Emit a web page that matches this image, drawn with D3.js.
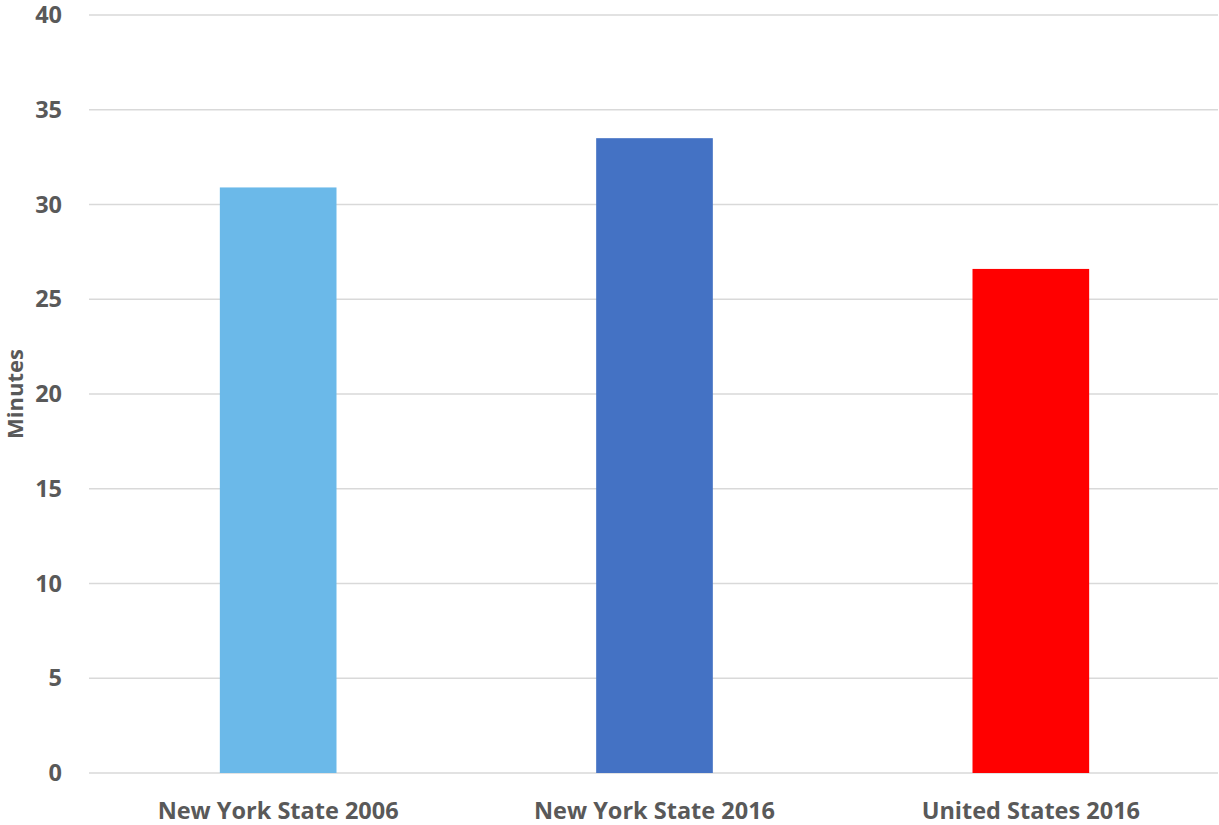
<!DOCTYPE html>
<html><head><meta charset="utf-8">
<script src="https://cdn.jsdelivr.net/npm/d3@7"></script>
<style>body{margin:0;background:#fff}</style>
</head><body><svg id="c" width="1219" height="825"></svg>
<script>
const categories = ["New York State 2006", "New York State 2016", "United States 2016"];
const values = [30.9, 33.5, 26.6];
const colors = ["#6BB9E9", "#4472C4", "#FF0000"];
const yTicks = [0, 5, 10, 15, 20, 25, 30, 35, 40];

const svg = d3.select("#c");
const m = {left: 89, right: 1, top: 15, bottom: 52};
const W = 1219, H = 825;
const x = d3.scaleBand().domain(categories).range([m.left + 1, W]).paddingInner(0.69).paddingOuter(0.345);
const y = d3.scaleLinear().domain([0, 40]).range([H - m.bottom, m.top]);
const font = "'Open Sans', 'Liberation Sans', sans-serif";

svg.append("g").selectAll("line").data(yTicks).join("line")
  .attr("x1", m.left).attr("x2", W - m.right)
  .attr("y1", d => y(d)).attr("y2", d => y(d))
  .attr("stroke", "#d9d9d9").attr("stroke-width", 1.5);

svg.append("g").selectAll("rect").data(categories).join("rect")
  .attr("x", d => x(d)).attr("width", x.bandwidth())
  .attr("y", (d, i) => y(values[i])).attr("height", (d, i) => y(0) - y(values[i]))
  .attr("fill", (d, i) => colors[i]);

const yAxis = svg.append("g").attr("transform", `translate(${m.left},0)`)
  .call(d3.axisLeft(y).tickValues(yTicks).tickSize(0).tickPadding(27));
yAxis.select(".domain").remove();
yAxis.selectAll("text").attr("font-family", font).attr("font-weight", "bold")
  .attr("font-size", 23.5).attr("fill", "#595959");

const xAxis = svg.append("g").attr("transform", `translate(0,${y(0)})`)
  .call(d3.axisBottom(x).tickSize(0).tickPadding(29));
xAxis.select(".domain").remove();
xAxis.selectAll("text").attr("font-family", font).attr("font-weight", "bold")
  .attr("font-size", 23.5).attr("fill", "#595959");

svg.append("text").attr("transform", `translate(23,${(y(0)+y(40))/2}) rotate(-90)`)
  .attr("text-anchor", "middle").attr("font-family", font).attr("font-weight", "bold")
  .attr("font-size", 22).attr("fill", "#595959").text("Minutes");
</script></body></html>
